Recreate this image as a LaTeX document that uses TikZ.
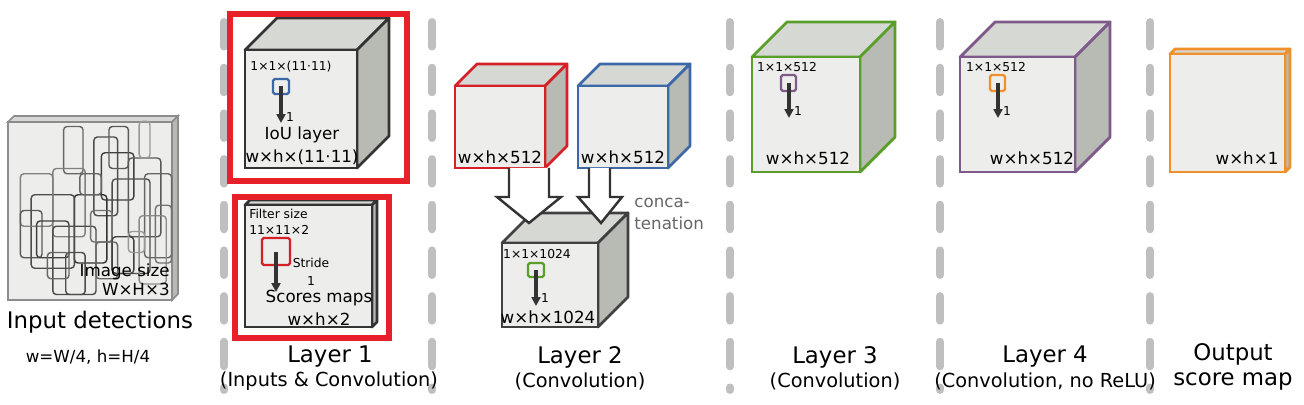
\documentclass[tikz,border=0pt]{standalone}
\usepackage{fontspec}
\setmainfont{DejaVu Sans}
\usetikzlibrary{arrows.meta}
\definecolor{myred}{HTML}{D42026}
\definecolor{myblue}{HTML}{3C68A8}
\definecolor{mygreen}{HTML}{5A9E2A}
\definecolor{mypurple}{HTML}{7E5A8A}
\definecolor{myorange}{HTML}{F0902A}
\definecolor{frame}{HTML}{E8202A}
\definecolor{facefront}{HTML}{EDEDEB}
\definecolor{facetop}{HTML}{D6D8D4}
\definecolor{faceside}{HTML}{B8BAB4}
\newcommand\mycube[6]{%
 \fill[facetop,draw=#6,line width=1.6pt,line join=round] (#1,#2)--++(#5,-#5)--(#3+#5,#2-#5)--(#3,#2)--cycle;
 \fill[faceside,draw=#6,line width=1.6pt,line join=round] (#3,#2)--(#3+#5,#2-#5)--(#3+#5,#4-#5)--(#3,#4)--cycle;
 \fill[facefront,draw=#6,line width=1.6pt] (#1,#2) rectangle (#3,#4);}
\tikzset{
 sep/.style={line width=4.5pt,draw=black!25,dash pattern=on 14pt off 12pt,line cap=round},
 big/.style={font=\fontsize{13}{15}\selectfont},
 mid/.style={font=\fontsize{9.5}{11}\selectfont,align=center,inner sep=0pt},
 sm/.style={font=\fontsize{7}{8}\selectfont,inner sep=0pt},
 arr/.style={-{Triangle[length=5pt,width=5pt]},line width=2pt,draw=black!80},
 hol/.style={draw=black!80,line width=1.4pt,fill=white},
 det/.style={rounded corners=2pt,line width=0.8pt},
 redframe/.style={draw=frame,line width=3pt}
}
\begin{document}
\begin{tikzpicture}[x=0.02cm,y=-0.02cm]
\useasboundingbox (0,0) rectangle (1304,405);
% separators
\foreach \x in {224,432,730,940,1150} \draw[sep] (\x,22)--(\x,390);
% input
\fill[facetop,draw=black!45,line width=1pt] (8,122)--(14,116)--(178,116)--(172,122)--cycle;
\fill[faceside,draw=black!45,line width=1pt] (172,122)--(178,116)--(178,294)--(172,300)--cycle;
\fill[facefront,draw=black!45,line width=1pt] (8,122) rectangle (172,300);
\begin{scope}[shift={(-12,-10)},xscale=1.08,yscale=1.05]
\foreach \a/\b/\c/\d/\g in {70/130/88/175/60,98/140/120/215/70,60/170/90/235/50,105/155/135/200/75,
 80/195/110/260/80,40/195/80/265/70,30/175/60/225/50,115/180/150/270/70,130/160/160/235/65,
 145/175/170/255/60,140/215/165/280/45,30/210/50/255/65,45/220/75/255/75,60/225/100/290/70,
 95/210/115/240/55,115/235/135/270/75,72/250/90/290/70,55/250/75/275/60,130/230/145/250/40,
 155/205/170/260/55,100/240/120/275/60,85/175/105/195/60,140/125/150/160/40,112/130/130/170/65}
 \draw[det,draw=black!\g] (\a,\b) rectangle (\c,\d);
\end{scope}
\node[mid,anchor=east,align=right] (imsz) at (170,280) {Image size\\W×H×3};
\node[big] (indet) at (100,322) {Input detections};
\node[mid] (wW) at (88,357) {w=W/4, h=H/4};
% layer 1 top
\mycube{245}{50}{357}{168}{32}{black!80}
\draw[myblue,line width=1.3pt,rounded corners=1pt] (273,79) rectangle (289,94);
\node[sm] (l1t) at (291,67) {1×1×(11·11)};
\draw[arr] (281,86)--(281,123); \node[sm] (o1) at (290,117) {1};
\node[mid] (iou) at (302,146) {IoU layer\\[2pt]w×h×(11·11)};
\draw[redframe] (230,14) rectangle (407,181);
% layer 1 bottom
\mycube{245}{205}{372}{327}{5}{black!80}
\node[sm,anchor=west,align=left] (fs) at (249,222) {Filter size\\[1pt]11×11×2};
\draw[myred,line width=1.3pt,rounded corners=1pt] (262,238) rectangle (290,265);
\draw[arr] (276,252)--(276,292);
\node[sm,align=center] (st) at (311,272) {Stride\\[2pt]1};
\node[mid] (sm) at (319,308) {Scores maps\\[2pt]w×h×2};
\draw[redframe] (235,197) rectangle (389,338);
\node[big] (L1) at (330,357) {Layer 1};
\node[mid,font=\fontsize{11}{12}\selectfont] (L1b) at (329,381) {(Inputs \& Convolution)};
% layer 2
\mycube{455}{86}{545}{168}{22}{myred}
\node[mid] at (500,157) {w×h×512};
\mycube{578}{86}{668}{168}{22}{myblue}
\node[mid] at (623,157) {w×h×512};
\mycube{502}{243}{598}{327}{30}{black!75}
\node[sm] at (537,254) {1×1×1024};
\draw[mygreen,line width=1.3pt,rounded corners=1pt] (528,263) rectangle (544,277);
\draw[arr] (536,270)--(536,306); \node[sm] at (545,298) {1};
\node[mid] at (548,317) {w×h×1024};
\draw[hol] (509,168)--(509,197)--(497,197)--(529,223)--(561,197)--(549,197)--(549,168);
\draw[hol] (589,168)--(589,197)--(578,197)--(601,223)--(622,197)--(610,197)--(610,168);
\node[mid,text=black!60,align=left,anchor=west] (cc) at (634,214) {conca-\\[2pt]tenation};
\node[big] (L2) at (580,357) {Layer 2};
\node[mid,font=\fontsize{11}{12}\selectfont] at (580,381) {(Convolution)};
% layer 3
\mycube{752}{57}{860}{172}{35}{mygreen}
\node[sm] at (787,67) {1×1×512};
\draw[mypurple,line width=1.3pt,rounded corners=1pt] (781,75) rectangle (796,91);
\draw[arr] (789,83)--(789,118); \node[sm] at (798,111) {1};
\node[mid] at (808,158) {w×h×512};
\node[big] (L3) at (835,357) {Layer 3};
\node[mid,font=\fontsize{11}{12}\selectfont] at (835,381) {(Convolution)};
% layer 4
\mycube{960}{57}{1075}{172}{35}{mypurple}
\node[sm] at (996,67) {1×1×512};
\draw[myorange,line width=1.3pt,rounded corners=1pt] (990,75) rectangle (1005,91);
\draw[arr] (998,83)--(998,118); \node[sm] at (1007,111) {1};
\node[mid] at (1032,158) {w×h×512};
\node[big] (L4) at (1045,357) {Layer 4};
\node[mid,font=\fontsize{11}{12}\selectfont] at (1045,381) {(Convolution, no ReLU)};
% output
\mycube{1170}{54}{1285}{172}{5}{myorange}
\node[mid] at (1247,158) {w×h×1};
\node[big,align=center,font=\fontsize{13}{14}\selectfont] (out) at (1233,367) {Output\\score map};
\end{tikzpicture}
\end{document}
